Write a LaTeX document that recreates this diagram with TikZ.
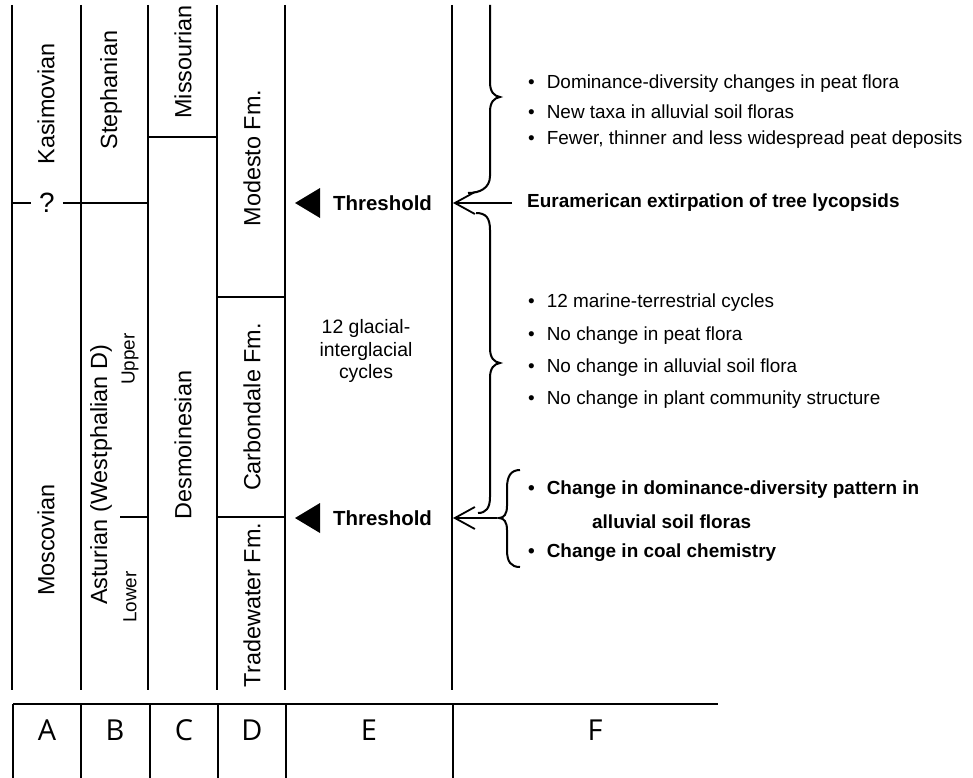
\documentclass[tikz,border=0pt]{standalone}
\usepackage{fontspec}
\setmainfont{Liberation Sans}
\newfontfamily\letterfont{Open Sans}
\usetikzlibrary{arrows.meta}
\newcommand\itemdot{\textbullet\hspace{12bp}}

\begin{document}
\begin{tikzpicture}[x=1bp, y=-1bp,
	colname/.style={rotate=90, font=\fontsize{23.5}{27}\selectfont, inner sep=0pt},
	sublab/.style={rotate=90, font=\fontsize{19}{22}\selectfont, inner sep=0pt},
	rule/.style={line width=2.2bp},
	sep/.style={line width=1.8bp},
	item/.style={anchor=west, font=\fontsize{19}{22}\selectfont, inner sep=0pt},
	bolditem/.style={anchor=west, font=\fontsize{19}{22}\selectfont\bfseries, inner sep=0pt},
	thr/.style={anchor=west, font=\fontsize{20.5}{24}\selectfont\bfseries, inner sep=0pt},
	lettr/.style={font=\letterfont\fontsize{29}{33}\selectfont, inner sep=0pt},
	brace/.style={line width=2bp},
	openarr/.style={line width=1.8bp, -{Straight Barb[length=20bp, width=22bp]}}
	]
\useasboundingbox (0,0) rectangle (973,778);

% columns
\foreach \x in {12,81,148,217,285,452}
	\draw[rule] (\x,5) -- (\x,690);

% boundaries
\node[font=\fontsize{28}{32}\selectfont, inner xsep=8bp, inner ysep=3pt] (q) at (47,203) {?};
\draw[rule] (12,203) -- (q) -- (148,203);
\draw[sep] (148,137) -- (217,137);
\draw[sep] (217,297) -- (285,297);
\draw[sep] (120,517) -- (148,517);
\draw[sep] (217,517) -- (285,517);

% stage names
\node[colname] (kas) at (46,104) {Kasimovian};
\node[colname] (mos) at (46,540) {Moscovian};
\node[colname] (ste) at (111,90) {Stephanian};
\node[colname] (ast) at (101,475) {Asturian (Westphalian D)};
\node[sublab] (upp) at (130,359) {Upper};
\node[sublab] (low) at (130,597) {Lower};
\node[colname] (mis) at (183,62) {Missourian};
\node[colname] (des) at (183,445) {Desmoinesian};
\node[colname] (mod) at (252,158) {Modesto Fm.};
\node[colname] (car) at (252,407) {Carbondale Fm.};
\node[colname] (tra) at (252,605) {Tradewater Fm.};

% column E
\node[align=center, font=\fontsize{19.5}{23}\selectfont, inner sep=0pt] (cyc) at (366,351)
	{12 glacial-\\interglacial\\cycles};
\fill (295,203) -- (320,188) -- (320,218) -- cycle;
\node[thr] (th1) at (333,203) {Threshold};
\fill (295,518) -- (320,503) -- (320,533) -- cycle;
\node[thr] (th2) at (333,518) {Threshold};

% column F
\node[item] (f1) at (528,84) {\itemdot Dominance-diversity changes in peat flora};
\node[item] (f2) at (528,112) {\itemdot New taxa in alluvial soil floras};
\node[item] (f3) at (528,140) {\itemdot Fewer, thinner and less widespread peat deposits};
\node[bolditem] (eur) at (527,203) {Euramerican extirpation of tree lycopsids};
\node[item] (m1) at (528,303) {\itemdot 12 marine-terrestrial cycles};
\node[item] (m2) at (528,336) {\itemdot No change in peat flora};
\node[item] (m3) at (528,368) {\itemdot No change in alluvial soil flora};
\node[item] (m4) at (528,400) {\itemdot No change in plant community structure};
\node[bolditem] (b1) at (528,490) {\itemdot Change in dominance-diversity pattern in};
\node[bolditem] (b2) at (592,522) {alluvial soil floras};
\node[bolditem] (b3) at (528,553) {\itemdot Change in coal chemistry};

% braces and arrows
\draw[brace] (490,5) -- (490,82) .. controls (490,92) and (494,96) .. (500,97)
	.. controls (494,98) and (490,102) .. (490,112) -- (490,176)
	.. controls (490,188) and (480,193) .. (468,193);
\draw[brace] (476,213) .. controls (486,213) and (490,218) .. (490,230) -- (490,348)
	.. controls (490,358) and (494,362) .. (500,363)
	.. controls (494,364) and (490,368) .. (490,378) -- (490,497)
	.. controls (490,508) and (486,513) .. (478,513);
\draw[brace] (520,470) .. controls (511,470) and (507,476) .. (507,488) -- (507,506)
	.. controls (507,514) and (504,518) .. (499,518)
	.. controls (504,518) and (507,522) .. (507,530) -- (507,550)
	.. controls (507,562) and (511,567) .. (520,567);
\coordinate (tip1) at (453,203);
\coordinate (tip2) at (453,518);
\coordinate (bt) at (497,518);
\draw[openarr] ([xshift=-15bp]eur.west) -- (tip1);
\draw[openarr] (bt) -- (tip2);

% letter row
\draw[rule] (13,704) -- (718,704);
\foreach \x in {13,81,150,218,286,453}
	\draw[rule] (\x,704) -- (\x,778);
\foreach \x/\l in {47/A,115/B,184/C,252/D,369/E,595/F}
	\node[lettr] (c\l) at (\x,730) {\l};
\end{tikzpicture}
\end{document}
